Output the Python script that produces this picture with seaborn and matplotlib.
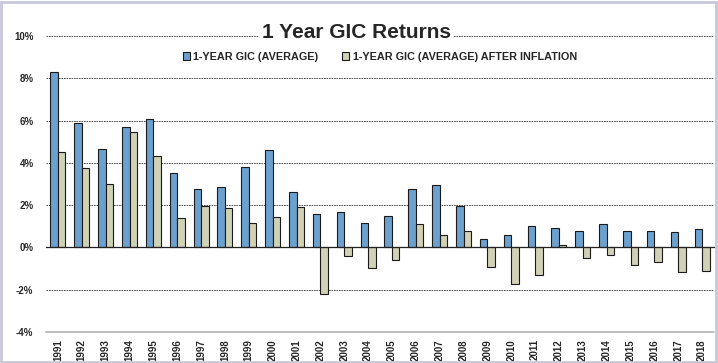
import pandas as pd
import numpy as np
import matplotlib
matplotlib.use("Agg")
import matplotlib.pyplot as plt
import seaborn as sns
from matplotlib.patches import Rectangle

# values (percent)
years = [str(y) for y in range(1991, 2019)]
gic_avg = [8.31, 5.90, 4.64, 5.68, 6.06, 3.54, 2.75, 2.87, 3.79, 4.61,
           2.61, 1.58, 1.66, 1.17, 1.49, 2.75, 2.95, 1.96, 0.39, 0.59,
           1.00, 0.91, 0.77, 1.11, 0.80, 0.80, 0.72, 0.87]
gic_real = [4.53, 3.74, 3.02, 5.45, 4.31, 1.38, 1.96, 1.85, 1.17, 1.43,
            1.90, -2.18, -0.40, -0.97, -0.59, 1.10, 0.58, 0.80, -0.94, -1.74,
            -1.32, 0.10, -0.51, -0.37, -0.83, -0.70, -1.17, -1.11]
series = ["1-YEAR GIC (AVERAGE)", "1-YEAR GIC (AVERAGE) AFTER INFLATION"]
yticks = [-4, -2, 0, 2, 4, 6, 8, 10]

df = pd.DataFrame({"Year": years, series[0]: gic_avg, series[1]: gic_real})
long_df = df.melt(id_vars="Year", var_name="Series", value_name="Return")

sns.set_style("white")
plt.rcParams["font.family"] = ["Liberation Sans", "DejaVu Sans"]

fig = plt.figure(figsize=(7.18, 3.63), dpi=100)
ax = fig.add_axes([46 / 718, 31 / 363, 668 / 718, 296 / 363])

sns.barplot(data=long_df, x="Year", y="Return", hue="Series",
            palette=["#5BA3DF", "#D6D6B0"], width=0.63,
            edgecolor="#1a1a1a", linewidth=0.8, ax=ax)

ax.set_ylim(-4, 10)
ax.set_xlim(-0.5, len(years) - 0.5)

# gridlines
for v in yticks[1:]:
    if v == 0:
        continue
    ax.axhline(v, color="#333333", lw=0.6, ls=(0, (2, 1)), zorder=0)

ax.set_yticks(yticks)
ax.set_yticklabels([f"{v}%" for v in yticks], fontsize=7, fontweight="bold")
ax.tick_params(axis="y", length=0, pad=9)

# zero axis with category boundary ticks
for s in ["left", "right", "top"]:
    ax.spines[s].set_visible(False)
ax.spines["bottom"].set_position(("data", 0))
ax.spines["bottom"].set_color("#222222")
ax.spines["bottom"].set_linewidth(0.9)
ax.set_xticks(np.arange(len(years)))
ax.set_xticklabels([])
ax.tick_params(axis="x", which="major", length=0)
ax.set_xticks(np.arange(-0.5, len(years), 1), minor=True)
ax.tick_params(axis="x", which="minor", length=5, direction="inout",
               width=0.9, color="#222222")
ax.set_xlabel("")
ax.set_ylabel("")

# year labels along the bottom
sec = ax.secondary_xaxis(0.0)
sec.set_xticks(np.arange(len(years)))
sec.set_xticklabels(years, rotation=90, fontsize=7, fontweight="bold")
sec.tick_params(length=0, pad=5)
sec.spines["bottom"].set_color("#AAAAAA")
sec.spines["bottom"].set_linestyle((0, (1, 1)))
sec.spines["bottom"].set_linewidth(1.1)

# legend
leg = ax.legend(loc="center", bbox_to_anchor=(0.5, 0.93), ncol=2,
                frameon=False, prop={"size": 7.8, "weight": "bold"},
                handlelength=0.6, handleheight=0.7, handletextpad=0.35,
                columnspacing=2.2)

# title sitting on the top gridline
fig.text(356 / 718, 1 - 33 / 363, "1 Year GIC Returns", ha="center",
         va="center", fontsize=15, fontweight="bold",
         bbox=dict(facecolor="white", edgecolor="none", pad=2))

# outer frame
fig.patches.append(Rectangle((0.002, 0.004), 0.995, 0.99, transform=fig.transFigure,
                             fill=False, edgecolor="#C8C8DC", lw=2))

fig.savefig("out.png", dpi=100)
